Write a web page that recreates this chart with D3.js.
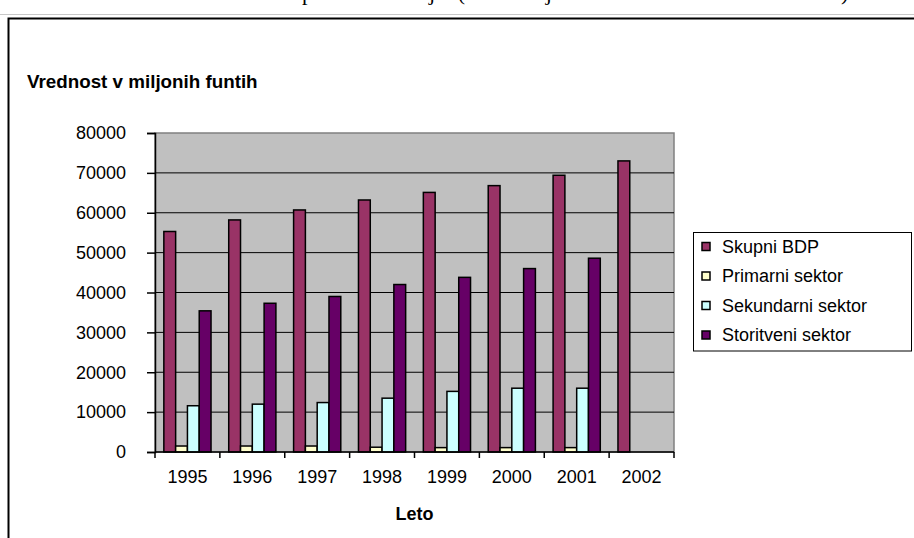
<!DOCTYPE html>
<html><head><meta charset="utf-8">
<script src="https://cdn.jsdelivr.net/npm/d3@7"></script>
<style>body{margin:0;background:#fff;} svg{display:block}</style>
</head><body><svg id="c" width="914" height="538"></svg>
<script>
const years = ["1995","1996","1997","1998","1999","2000","2001","2002"];
const seriesNames = ["Skupni BDP","Primarni sektor","Sekundarni sektor","Storitveni sektor"];
const skupniBDP = [55300,58200,60700,63200,65100,66800,69400,73000];
const primarniSektor = [1500,1500,1500,1200,1100,1100,1100,null];
const sekundarniSektor = [11600,12000,12400,13500,15200,16000,16000,null];
const storitveniSektor = [35400,37300,39000,42000,43800,46000,48600,null];
const yTicks = [0,10000,20000,30000,40000,50000,60000,70000,80000];
const colors = ["#993366","#FFFFCC","#CCFFFF","#660066"];
const titleText = "Sestava BDP po vseh sektorjih (vse v miljonih funtov v stalnih cenah 1995)";
const yTitle = "Vrednost v miljonih funtih";
const xTitle = "Leto";

const seriesValues = [skupniBDP, primarniSektor, sekundarniSektor, storitveniSektor];
const svg = d3.select("#c");
const W = 914, H = 538;
const plot = {l:155, r:674, t:133, b:452};

// page line + clipped heading + frame
svg.append("line").attr("x1",0).attr("x2",W).attr("y1",14.5).attr("y2",14.5).attr("stroke","#c8c8c8").attr("stroke-width",1);
const tt = svg.append("text").attr("x",0).attr("y",0).attr("font-family","Liberation Serif, Times New Roman, serif")
  .attr("font-size",22).attr("fill","#000").text(titleText);
const pIdx = titleText.indexOf("p");
const px = tt.node().getStartPositionOfChar(pIdx).x;
tt.attr("x", 302 - px);

svg.append("path").attr("d",`M8.5,${H} V18.5 H${W}`).attr("fill","none").attr("stroke","#000").attr("stroke-width",2);

const x = d3.scaleBand().domain(years).range([plot.l, plot.r]).padding(0);
const xi = d3.scaleBand().domain(seriesNames).range([0, x.bandwidth()]).paddingInner(0).paddingOuter(0.75);
const y = d3.scaleLinear().domain([0,80000]).range([plot.b, plot.t]);

// plot background
svg.append("rect").attr("x",plot.l).attr("y",plot.t).attr("width",plot.r-plot.l).attr("height",plot.b-plot.t)
  .attr("fill","#c0c0c0").attr("stroke","#808080").attr("stroke-width",1.5);

// gridlines
svg.append("g").selectAll("line").data(yTicks.filter(d=>d>0 && d<80000)).join("line")
  .attr("x1",plot.l).attr("x2",plot.r).attr("y1",d=>y(d)).attr("y2",d=>y(d))
  .attr("stroke","#000").attr("stroke-width",1);

// bars
const data = [];
years.forEach((yr,i)=>seriesNames.forEach((s,j)=>{ if(seriesValues[j][i]!=null) data.push({yr,s,v:seriesValues[j][i],c:colors[j]}); }));
svg.append("g").selectAll("rect").data(data).join("rect")
  .attr("x",d=>x(d.yr)+xi(d.s)).attr("width",xi.bandwidth())
  .attr("y",d=>y(d.v)).attr("height",d=>y(0)-y(d.v))
  .attr("fill",d=>d.c).attr("stroke","#000").attr("stroke-width",1.5);

// y axis
const ya = svg.append("g").attr("transform",`translate(${plot.l},0)`)
  .call(d3.axisLeft(y).tickValues(yTicks).tickSize(8).tickPadding(21).tickFormat(d3.format("d")));
ya.select(".domain").attr("stroke","#000").attr("stroke-width",1.5);
ya.selectAll(".tick line").attr("stroke","#000").attr("stroke-width",1.5);
ya.selectAll("text").attr("font-family","Liberation Sans, Arial, sans-serif").attr("font-size",18).attr("fill","#000");

// x axis
const xa = svg.append("g").attr("transform",`translate(0,${plot.b})`)
  .call(d3.axisBottom(x).tickSize(0).tickPadding(18));
xa.select(".domain").attr("d",`M${plot.l},0H${plot.r}`).attr("stroke","#000").attr("stroke-width",1.5);
xa.selectAll("text").attr("font-family","Liberation Sans, Arial, sans-serif").attr("font-size",18).attr("fill","#000");
const bounds = years.map(d=>x(d)).concat([plot.r]);
xa.append("g").selectAll("line").data(bounds).join("line")
  .attr("x1",d=>d).attr("x2",d=>d).attr("y1",0).attr("y2",6).attr("stroke","#000").attr("stroke-width",1.5);

// titles
svg.append("text").attr("x",27).attr("y",88).attr("font-family","Liberation Sans, Arial, sans-serif")
  .attr("font-size",18.8).attr("font-weight","bold").attr("fill","#000").text(yTitle);
svg.append("text").attr("x",(plot.l+plot.r)/2).attr("y",520).attr("text-anchor","middle")
  .attr("font-family","Liberation Sans, Arial, sans-serif").attr("font-size",18).attr("font-weight","bold").attr("fill","#000").text(xTitle);

// legend
const lg = svg.append("g");
lg.append("rect").attr("x",693.5).attr("y",232.5).attr("width",218).attr("height",118.5).attr("fill","#fff").attr("stroke","#000").attr("stroke-width",1);
const rowY = d3.scalePoint().domain(seriesNames).range([246.5,335]);
const rows = lg.selectAll("g.r").data(seriesNames).join("g").attr("class","r").attr("transform",d=>`translate(0,${rowY(d)})`);
rows.append("rect").attr("x",702).attr("y",-4).attr("width",8).attr("height",8)
  .attr("fill",(d,i)=>colors[i]).attr("stroke","#000").attr("stroke-width",1.5);
rows.append("text").attr("x",722).attr("y",0).attr("dy","0.35em")
  .attr("font-family","Liberation Sans, Arial, sans-serif").attr("font-size",18).attr("fill","#000").text(d=>d);
</script></body></html>
